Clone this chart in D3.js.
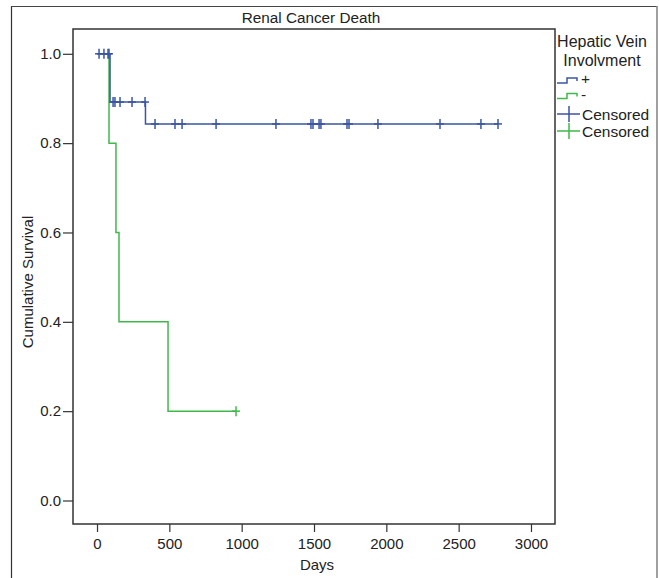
<!DOCTYPE html>
<html><head><meta charset="utf-8">
<script src="https://cdn.jsdelivr.net/npm/d3@7"></script>
<style>
body{margin:0;background:#fff;}
text{font-family:"Liberation Sans",Arial,sans-serif;fill:#222;}
</style></head>
<body><svg id="c" width="659" height="578"></svg>
<script>
// ---- data ----
const title = "Renal Cancer Death";
const xLabel = "Days";
const yLabel = "Cumulative Survival";
const legendTitle = ["Hepatic Vein", "Involvment"];
const groups = ["+", "-"];
const xTicks = [0, 500, 1000, 1500, 2000, 2500, 3000];
const yTicks = [0.0, 0.2, 0.4, 0.6, 0.8, 1.0];
// "+" group: step times (days) and survival after each step
const posTimes = [0, 90, 335];
const posSurv = [1.0, 0.892, 0.843];
const posEnd = 2772;
const posCensored = [14, 48, 76, 83, 111, 124, 159, 242, 332, 401, 539, 588, 823, 1237, 1479, 1493, 1535, 1548, 1728, 1742, 1942, 2371, 2654, 2772];
// "-" group
const negTimes = [0, 83, 131, 152, 491];
const negSurv = [1.0, 0.8, 0.6, 0.4, 0.2];
const negEnd = 961;
const negCensored = [961];

const colors = {"+": "#3b55a5", "-": "#3fb94a"};

const svg = d3.select("#c");
const L = 73, R = 555, T = 29, B = 524;
const x = d3.scaleLinear().domain([-166, 3166]).range([L, R]);
const y = d3.scaleLinear().domain([-0.0526, 1.0555]).range([B, T]);

// outer frame
svg.append("line").attr("x1",11.5).attr("x2",11.5).attr("y1",6).attr("y2",578).attr("stroke","#333").attr("stroke-width",1.2);
svg.append("line").attr("x1",11).attr("x2",657).attr("y1",6.5).attr("y2",6.5).attr("stroke","#444").attr("stroke-width",1.2);
svg.append("line").attr("x1",657).attr("x2",657).attr("y1",6).attr("y2",578).attr("stroke","#888").attr("stroke-width",1.6);

// title
svg.append("text").attr("x",(L+R)/2-3).attr("y",23).attr("text-anchor","middle").attr("font-size",15.3).text(title);

// axes
const xAxis = d3.axisBottom(x).tickValues(xTicks).tickSize(8).tickSizeOuter(0).tickFormat(d3.format("d"));
const gx = svg.append("g").attr("transform",`translate(0,${B})`).call(xAxis);
gx.select(".domain").remove();
gx.selectAll("line").attr("stroke","#333").attr("stroke-width",1.2);
gx.selectAll("text").attr("font-size",15).attr("dy","0.95em").attr("fill","#222");

const yAxis = d3.axisLeft(y).tickValues(yTicks).tickSize(10).tickSizeOuter(0).tickFormat(d3.format(".1f"));
const gy = svg.append("g").attr("transform",`translate(${L},0)`).call(yAxis);
gy.select(".domain").remove();
gy.selectAll("line").attr("stroke","#333").attr("stroke-width",1.2);
gy.selectAll("text").attr("font-size",15).attr("x",-12).attr("fill","#222");

// plot frame
svg.append("rect").attr("x",L).attr("y",T).attr("width",R-L).attr("height",B-T)
  .attr("fill","none").attr("stroke","#333").attr("stroke-width",1.5);

// axis titles
svg.append("text").attr("x",(L+R)/2+3).attr("y",570).attr("text-anchor","middle").attr("font-size",15).text(xLabel);
svg.append("text").attr("transform","translate(33,282) rotate(-90)").attr("text-anchor","middle").attr("font-size",15).text(yLabel);

// survival curves
function stepPoints(times, surv, end){
  const pts = [];
  for(let i=0;i<times.length;i++){
    pts.push([times[i], surv[i]]);
  }
  pts.push([end, surv[surv.length-1]]);
  return pts;
}
function survAt(times, surv, t){
  let s = surv[0];
  for(let i=0;i<times.length;i++){ if(times[i] <= t) s = surv[i]; }
  return s;
}
const line = d3.line().x(d=>x(d[0])).y(d=>y(d[1])).curve(d3.curveStepAfter);

const series = [
  {g:"-", times:negTimes, surv:negSurv, end:negEnd, cens:negCensored},
  {g:"+", times:posTimes, surv:posSurv, end:posEnd, cens:posCensored}
];
series.forEach(s=>{
  svg.append("path").datum(stepPoints(s.times,s.surv,s.end)).attr("d",line)
    .attr("fill","none").attr("stroke",colors[s.g]).attr("stroke-width",1.5);
  const gc = svg.append("g").attr("stroke",colors[s.g]).attr("stroke-width",1.5);
  s.cens.forEach(t=>{
    const cx = x(t), cy = y(survAt(s.times,s.surv,t));
    gc.append("line").attr("x1",cx).attr("x2",cx).attr("y1",cy-5).attr("y2",cy+5);
    gc.append("line").attr("x1",cx-4).attr("x2",cx+4).attr("y1",cy).attr("y2",cy);
  });
});

// legend
const lg = svg.append("g");
lg.append("text").attr("x",602).attr("y",47).attr("text-anchor","middle").attr("font-size",16).text(legendTitle[0]);
lg.append("text").attr("x",602).attr("y",66).attr("text-anchor","middle").attr("font-size",16).text(legendTitle[1]);
groups.forEach((g,i)=>{
  const by = 83 + i*15.5;
  lg.append("path").attr("d",`M557,${by} H567 V${by-5} H577 V${by-2}`)
    .attr("fill","none").attr("stroke",colors[g]).attr("stroke-width",1.5);
  lg.append("text").attr("x",581).attr("y",by+1).attr("font-size",15.5).text(g);
});
groups.forEach((g,i)=>{
  const cy = 114 + i*17;
  lg.append("line").attr("x1",557).attr("x2",580).attr("y1",cy).attr("y2",cy).attr("stroke",colors[g]).attr("stroke-width",1.5);
  lg.append("line").attr("x1",569).attr("x2",569).attr("y1",cy-8).attr("y2",cy+8).attr("stroke",colors[g]).attr("stroke-width",1.5);
  lg.append("text").attr("x",582).attr("y",cy+5.5).attr("font-size",15.5).text("Censored");
});
</script></body></html>
